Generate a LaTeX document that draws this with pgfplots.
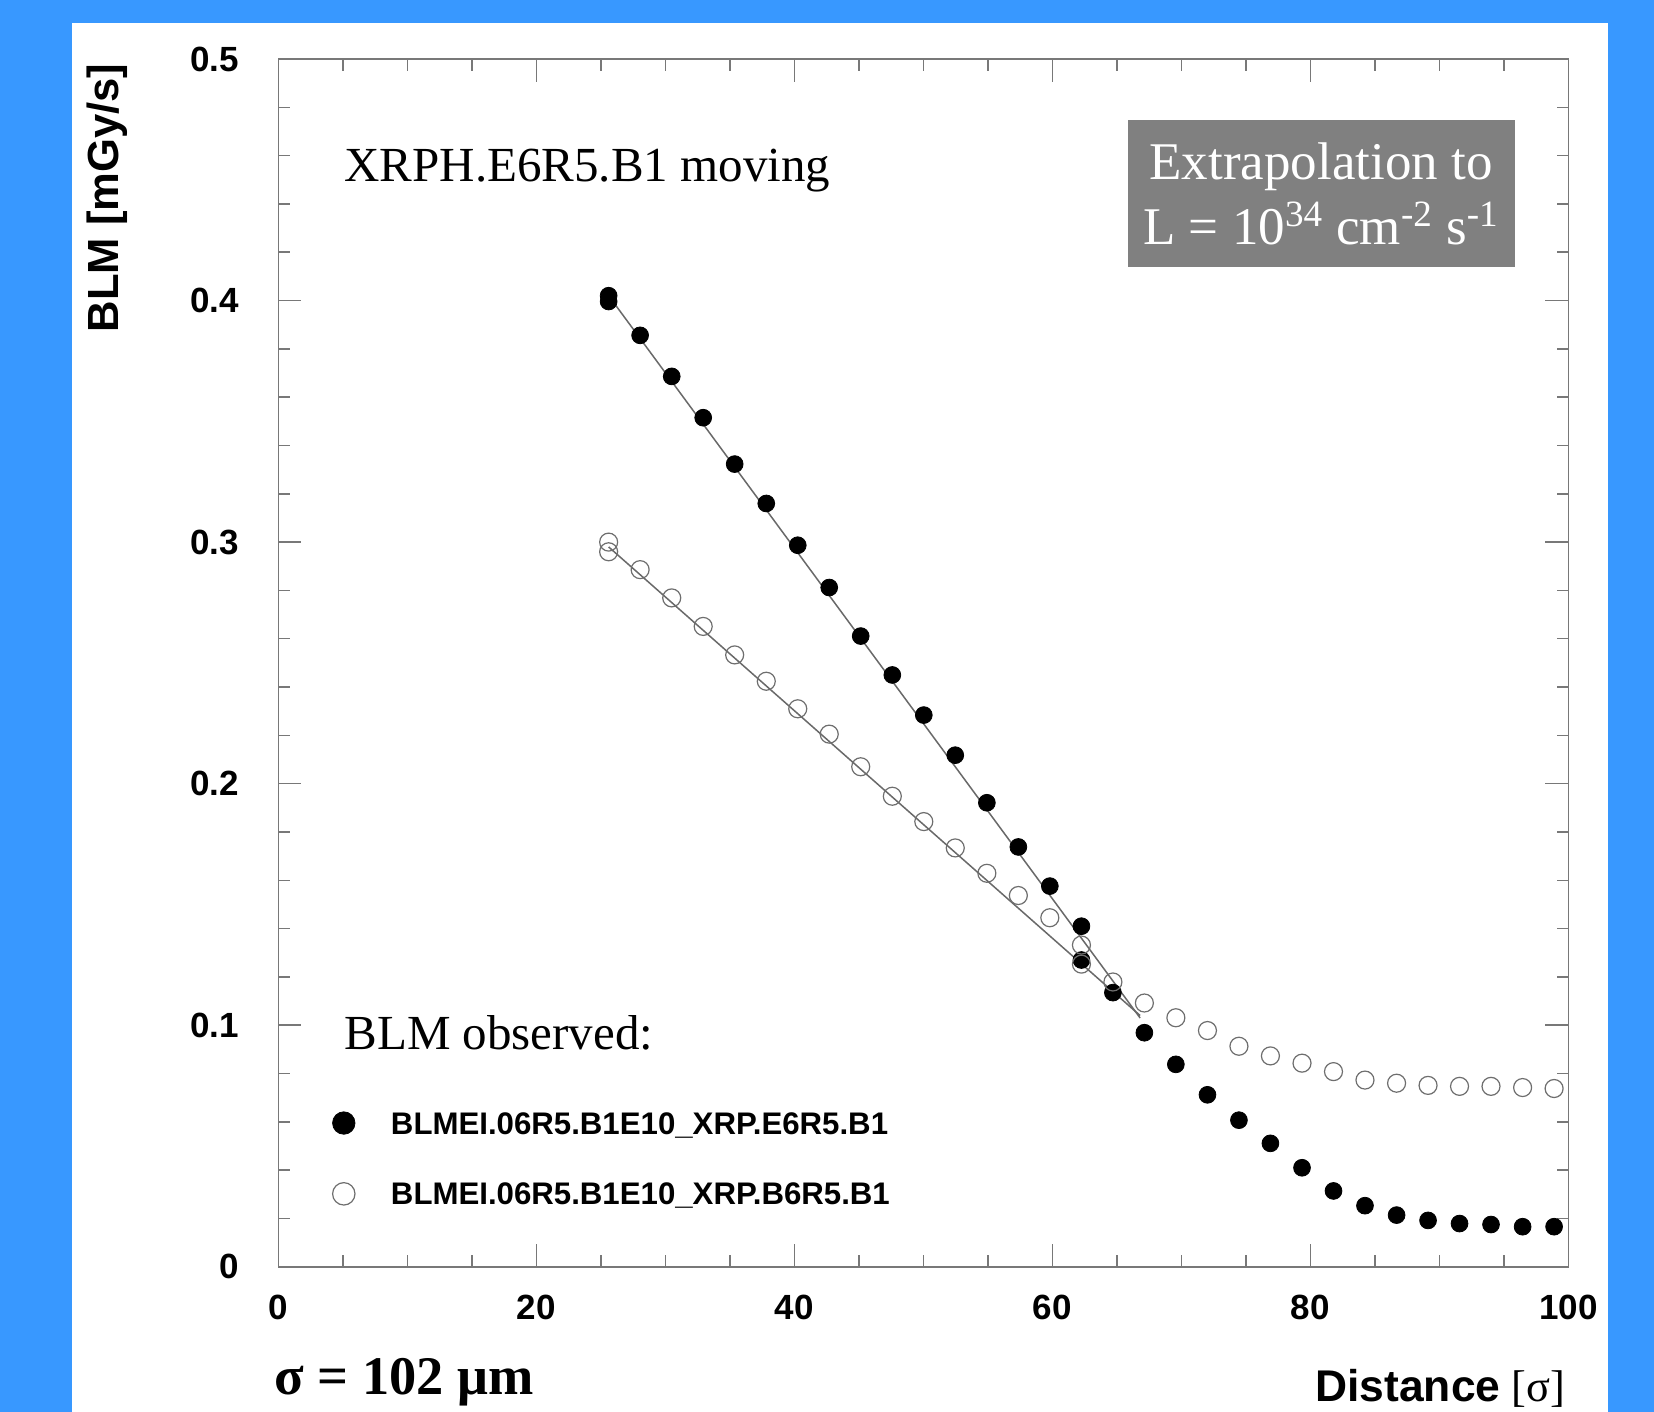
\documentclass[border=0pt]{standalone}
\usepackage{fontspec}
\setmainfont{Liberation Serif}
\setsansfont{Liberation Sans}
\usepackage{pgfplots}
\pgfplotsset{compat=1.18}
\definecolor{bgblue}{RGB}{56,152,255}
\definecolor{boxgray}{RGB}{128,128,128}
\definecolor{axgray}{RGB}{120,120,120}
\definecolor{opengray}{RGB}{110,110,110}
\definecolor{fitgray}{RGB}{105,105,105}
\begin{document}
\begin{tikzpicture}[x=1pt,y=1pt]
\path[use as bounding box] (0,0) rectangle (827,706);
\fill[bgblue] (0,0) rectangle (827,706);
\fill[white] (35.9,0) rectangle (803.8,694.4);
\begin{axis}[
  at={(139.2pt,72.6pt)}, anchor=south west,
  scale only axis, width=645pt, height=603.9pt,
  xmin=0, xmax=100, ymin=0, ymax=0.5,
  xtick={0,20,40,60,80,100},
  ytick={0,0.1,0.2,0.3,0.4,0.5},
  minor x tick num=3, minor y tick num=4,
  scaled y ticks=false,
  tick align=inside,
  xtick pos=both, ytick pos=both,
  axis line style={draw=axgray, line width=0.8pt},
  tick style={draw=axgray, line width=0.75pt},
  major tick length=11.5pt, minor tick length=5.8pt,
  /pgf/number format/assume math mode=true,
  ticklabel style={font=\sffamily\bfseries\fontsize{17.5}{17.5}\selectfont, inner sep=0pt},
  xticklabel style={anchor=north, yshift=-14pt},
  yticklabel style={anchor=east, xshift=-19.5pt},
  legend style={draw=none, fill=none, inner sep=0pt, outer sep=0pt,
    at={(axis description cs:0.0420,0.1283)}, anchor=north west,
    font=\sffamily\bfseries\fontsize{15.6}{15.6}\selectfont,
    row sep=24.2pt, column sep=18pt,
    nodes={inner sep=0pt, text height=11pt, text depth=0pt}},
  legend cell align=left,
  legend image code/.code={\draw[#1, mark size=5.6pt] plot coordinates {(0pt,0pt)};},
]
% fit lines
\addplot[fitgray, line width=0.75pt, forget plot] coordinates {(25.6,0.402) (66.8,0.103)};
\addplot[fitgray, line width=0.75pt, forget plot] coordinates {(25.6,0.298) (66.8,0.104)};
% filled series
\addplot[only marks, mark=*, mark size=4.2pt, black, mark options={fill=black, draw=black}]
 coordinates {
 (25.60,0.402) (25.60,0.3996) (28.04,0.3856) (30.49,0.3686) (32.93,0.3515) (35.37,0.3323)
 (37.82,0.316) (40.26,0.2987) (42.70,0.2812) (45.14,0.2611) (47.59,0.245) (50.03,0.2284)
 (52.47,0.2118) (54.92,0.1921) (57.36,0.1738) (59.80,0.1576) (62.25,0.141) (62.25,0.127)
 (64.69,0.1135) (67.13,0.0969) (69.57,0.0838) (72.02,0.0712) (74.46,0.0607) (76.90,0.0511)
 (79.35,0.041) (81.79,0.0314) (84.23,0.0253) (86.68,0.0214) (89.12,0.0192) (91.56,0.0179)
 (94.00,0.0175) (96.45,0.0166) (98.89,0.0166)
 };
\addlegendentry{BLMEI.06R5.B1E10\_XRP.E6R5.B1}
% open series
\addplot[only marks, mark=o, mark size=4.5pt, opengray, mark options={line width=0.6pt}]
 coordinates {
 (25.60,0.300) (25.60,0.296) (28.04,0.2886) (30.49,0.2769) (32.93,0.2651) (35.37,0.2533)
 (37.82,0.2424) (40.26,0.231) (42.70,0.2205) (45.14,0.207) (47.59,0.1948) (50.03,0.1843)
 (52.47,0.1734) (54.92,0.1629) (57.36,0.1537) (59.80,0.1445) (62.25,0.1332) (62.25,0.1253)
 (64.69,0.1179) (67.13,0.1092) (69.57,0.1031) (72.02,0.0978) (74.46,0.0913) (76.90,0.0873)
 (79.35,0.0843) (81.79,0.0808) (84.23,0.0773) (86.68,0.076) (89.12,0.0751) (91.56,0.0747)
 (94.00,0.0747) (96.45,0.0742) (98.89,0.0738)
 };
\addlegendentry{BLMEI.06R5.B1E10\_XRP.B6R5.B1}
\end{axis}
% annotation box
\fill[boxgray] (563.8,572.6) rectangle (757.3,645.9);
\node[anchor=base, inner sep=0pt, text=white, font=\fontsize{26.5}{26.5}\selectfont] at (660.5,616.0) {Extrapolation to};
\node[anchor=base, inner sep=0pt, text=white, font=\fontsize{26.5}{26.5}\selectfont] at (660.5,583.7) {L = 10\textsuperscript{34} cm\textsuperscript{-2} s\textsuperscript{-1}};
% texts
\node[anchor=base west, inner sep=0pt, font=\fontsize{24.5}{24.5}\selectfont] at (172,615.3) {XRPH.E6R5.B1 moving};
\node[anchor=base west, inner sep=0pt, font=\fontsize{24.5}{24.5}\selectfont] at (172,181.2) {BLM observed:};
\node[rotate=90, anchor=east, inner sep=0pt, font=\sffamily\bfseries\fontsize{21.8}{21.8}\selectfont] at (53.5,674.4) {BLM [mGy/s]};
\node[anchor=base east, inner sep=0pt, font=\fontsize{22.2}{22.2}\selectfont] at (782.7,5.4) {{\sffamily\bfseries Distance} [σ]};
\node[anchor=base west, inner sep=0pt, font=\bfseries\fontsize{27.2}{27.2}\selectfont] at (137,8.5) {σ = 102 μm};
\end{tikzpicture}
\end{document}
